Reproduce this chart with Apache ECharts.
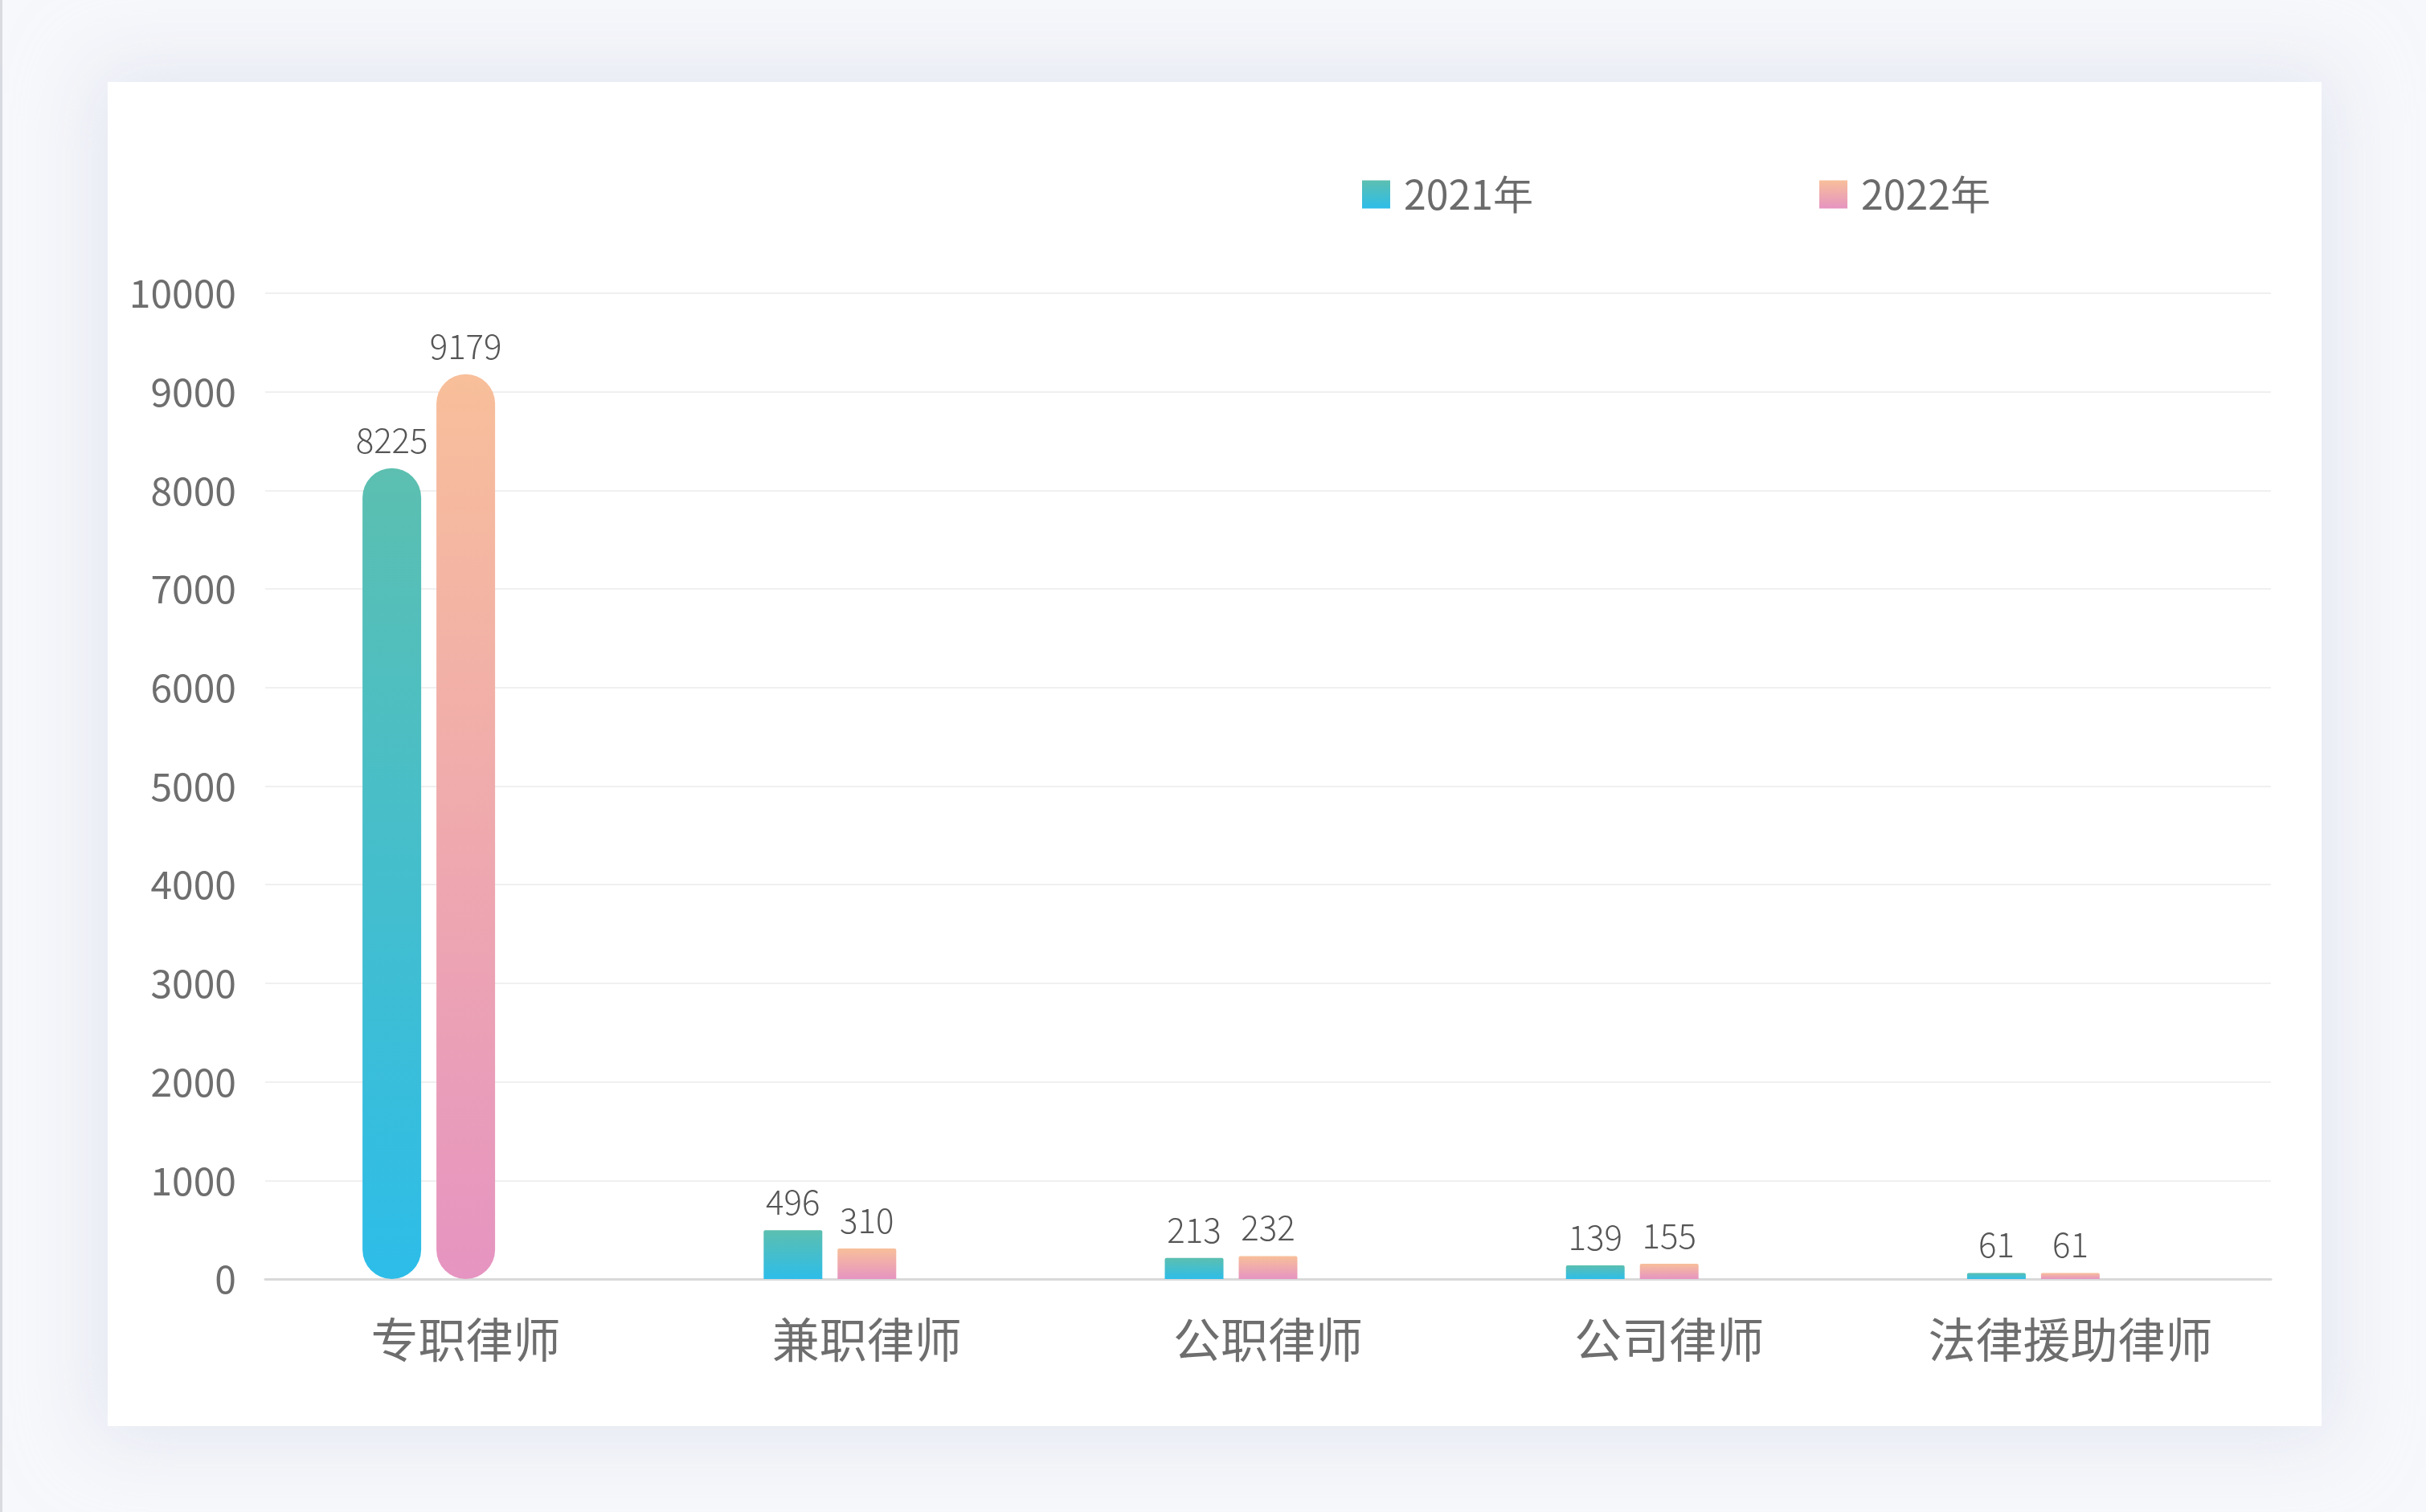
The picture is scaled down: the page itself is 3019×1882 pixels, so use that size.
<!DOCTYPE html>
<html>
<head>
<meta charset="utf-8">
<script src="https://cdn.jsdelivr.net/npm/echarts@6/dist/echarts.min.js"></script>
<style>
  html, body { margin: 0; padding: 0; width: 3019px; height: 1882px; background: #f7f8fb; overflow: hidden; }
  #edge { position: absolute; left: 0; top: 0; width: 3px; height: 1882px; background: #d9dbe1; }
  #card { position: absolute; left: 134px; top: 102px; width: 2755px; height: 1673px; background: #ffffff;
          box-shadow: 0 0 90px 20px rgba(214, 218, 234, 0.55); }
  #chart { width: 2755px; height: 1673px; }
</style>
</head>
<body>
<div id="edge"></div>
<div id="card"><div id="chart"></div></div>
<script>
const categories = ['专职律师', '兼职律师', '公职律师', '公司律师', '法律援助律师'];
const seriesNames = ['2021年', '2022年'];
const values2021 = [8225, 496, 213, 139, 61];
const values2022 = [9179, 310, 232, 155, 61];

const grad = (top, bottom) => new echarts.graphic.LinearGradient(0, 0, 0, 1, [
  { offset: 0, color: top }, { offset: 1, color: bottom }
]);
const c2021 = grad('#5cbfb0', '#2dbde9');
const c2022 = grad('#f8bf9a', '#e694c1');

function items(vals) {
  return vals.map((v, i) => ({ value: v, itemStyle: { borderRadius: i === 0 ? 37 : [2, 2, 0, 0] } }));
}

const chart = echarts.init(document.getElementById('chart'));
const labelStyle = { show: true, position: 'top', distance: 14, color: '#555555', fontSize: 42, fontWeight: 300,
  fontFamily: 'Noto Sans CJK SC' };
chart.setOption({
  animation: false,
  textStyle: { fontFamily: 'Noto Sans CJK SC' },
  legend: {
    data: seriesNames,
    left: 1556, top: 110,
    itemWidth: 35, itemHeight: 35, itemGap: 356,
    icon: 'rect',
    textStyle: { fontSize: 50, color: '#6b6b6b', padding: [0, 0, 0, 12] }
  },
  grid: { left: 196, right: 63, top: 263, bottom: 183, containLabel: false },
  xAxis: {
    type: 'category', data: categories,
    axisLine: { lineStyle: { color: '#d9d9d9', width: 3 } },
    axisTick: { show: false },
    axisLabel: { fontSize: 59, color: '#6e6e6e', margin: 46 }
  },
  yAxis: {
    type: 'value', min: 0, max: 10000, interval: 1000,
    axisLine: { show: false }, axisTick: { show: false },
    axisLabel: { fontSize: 48, color: '#6e6e6e', margin: 36, formatter: v => String(v) },
    splitLine: { lineStyle: { color: '#f0f0f0', width: 2 } }
  },
  series: [
    { name: seriesNames[0], type: 'bar', data: items(values2021), barWidth: 73, barGap: '26%',
      itemStyle: { color: c2021 }, label: labelStyle },
    { name: seriesNames[1], type: 'bar', data: items(values2022), barWidth: 73, barGap: '26%',
      itemStyle: { color: c2022 }, label: labelStyle },
    { name: 'spacer', type: 'bar', data: [], barWidth: 73, barGap: '26%' }
  ]
});
</script>
</body>
</html>
